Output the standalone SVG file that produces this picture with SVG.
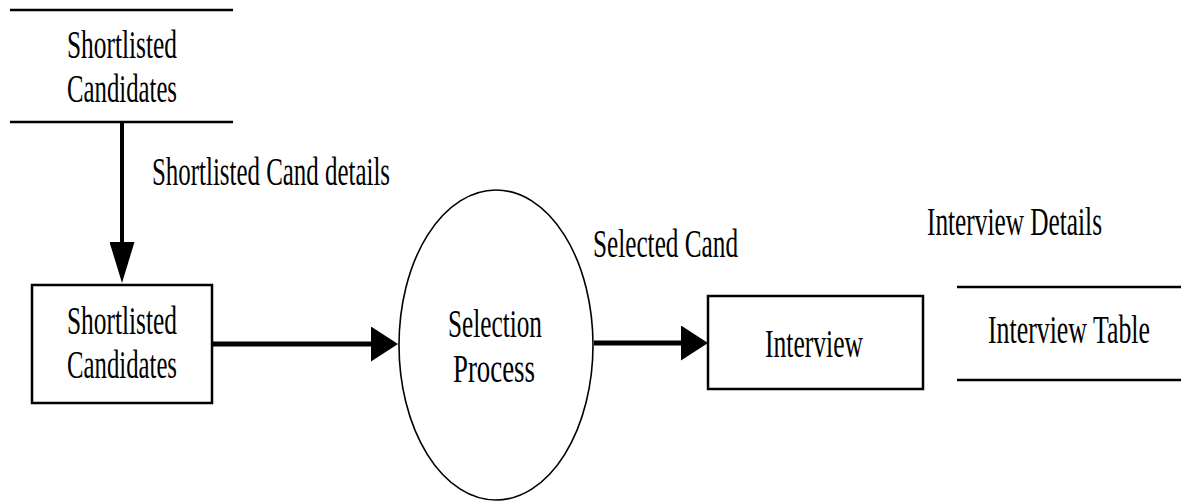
<svg xmlns="http://www.w3.org/2000/svg" width="1181" height="502" viewBox="0 0 1181 502">
<style>
  .t { font-family: "Liberation Serif", "Times New Roman", serif; font-size: 28px; fill: #000; }
  .store { stroke: #000; stroke-width: 2.5; fill: none; }
  .box { stroke: #000; stroke-width: 2.5; fill: #fff; }
  .proc { stroke: #000; stroke-width: 1.6; fill: #fff; }
  .flow { stroke: #000; fill: none; }
</style>
<defs>
  <marker id="headV" markerUnits="userSpaceOnUse" markerWidth="41" markerHeight="25" refX="33" refY="12.5" orient="auto" viewBox="0 0 41 25">
    <path d="M0,0 L41,12.5 L0,25 Z" fill="#000"/>
  </marker>
  <marker id="headH" markerUnits="userSpaceOnUse" markerWidth="27" markerHeight="35" refX="20" refY="17.5" orient="auto" viewBox="0 0 27 35">
    <path d="M0,0 L27,17.5 L0,35 Z" fill="#000"/>
  </marker>
</defs>
<rect width="1181" height="502" fill="#fff"/>

<g id="connectors">
  <line class="flow" x1="122" y1="122" x2="122" y2="275" stroke-width="4" marker-end="url(#headV)"/>
  <line class="flow" x1="212" y1="344" x2="391" y2="344" stroke-width="5" marker-end="url(#headH)"/>
  <line class="flow" x1="594" y1="343" x2="701" y2="343" stroke-width="5" marker-end="url(#headH)"/>
  <text class="t" transform="translate(152,185) scale(1,1.43)" textLength="238" lengthAdjust="spacingAndGlyphs">Shortlisted Cand details</text>
  <text class="t" transform="translate(593,257) scale(1,1.43)" textLength="145" lengthAdjust="spacingAndGlyphs">Selected Cand</text>
  <text class="t" transform="translate(927,235) scale(1,1.43)" textLength="175" lengthAdjust="spacingAndGlyphs">Interview Details</text>
</g>

<g id="store-shortlisted">
  <line class="store" x1="10" y1="10" x2="233" y2="10"/>
  <line class="store" x1="10" y1="122" x2="233" y2="122"/>
  <text class="t" transform="translate(67,58) scale(1,1.43)" textLength="110" lengthAdjust="spacingAndGlyphs">Shortlisted</text>
  <text class="t" transform="translate(67,102) scale(1,1.43)" textLength="110" lengthAdjust="spacingAndGlyphs">Candidates</text>
</g>

<g id="entity-shortlisted">
  <rect class="box" x="32" y="285" width="180" height="118"/>
  <text class="t" transform="translate(67,334) scale(1,1.43)" textLength="110" lengthAdjust="spacingAndGlyphs">Shortlisted</text>
  <text class="t" transform="translate(67,378) scale(1,1.43)" textLength="110" lengthAdjust="spacingAndGlyphs">Candidates</text>
</g>

<g id="process-selection">
  <ellipse class="proc" cx="496" cy="345" rx="97" ry="155"/>
  <text class="t" transform="translate(448,337) scale(1,1.43)" textLength="94" lengthAdjust="spacingAndGlyphs">Selection</text>
  <text class="t" transform="translate(453,382) scale(1,1.43)" textLength="82" lengthAdjust="spacingAndGlyphs">Process</text>
</g>

<g id="entity-interview">
  <rect class="box" x="708" y="296" width="215" height="93"/>
  <text class="t" transform="translate(765,357) scale(1,1.43)" textLength="98" lengthAdjust="spacingAndGlyphs">Interview</text>
</g>

<g id="store-interview">
  <line class="store" x1="957" y1="287" x2="1181" y2="287"/>
  <line class="store" x1="957" y1="380" x2="1181" y2="380"/>
  <text class="t" transform="translate(988,343) scale(1,1.43)" textLength="162" lengthAdjust="spacingAndGlyphs">Interview Table</text>
</g>
</svg>
